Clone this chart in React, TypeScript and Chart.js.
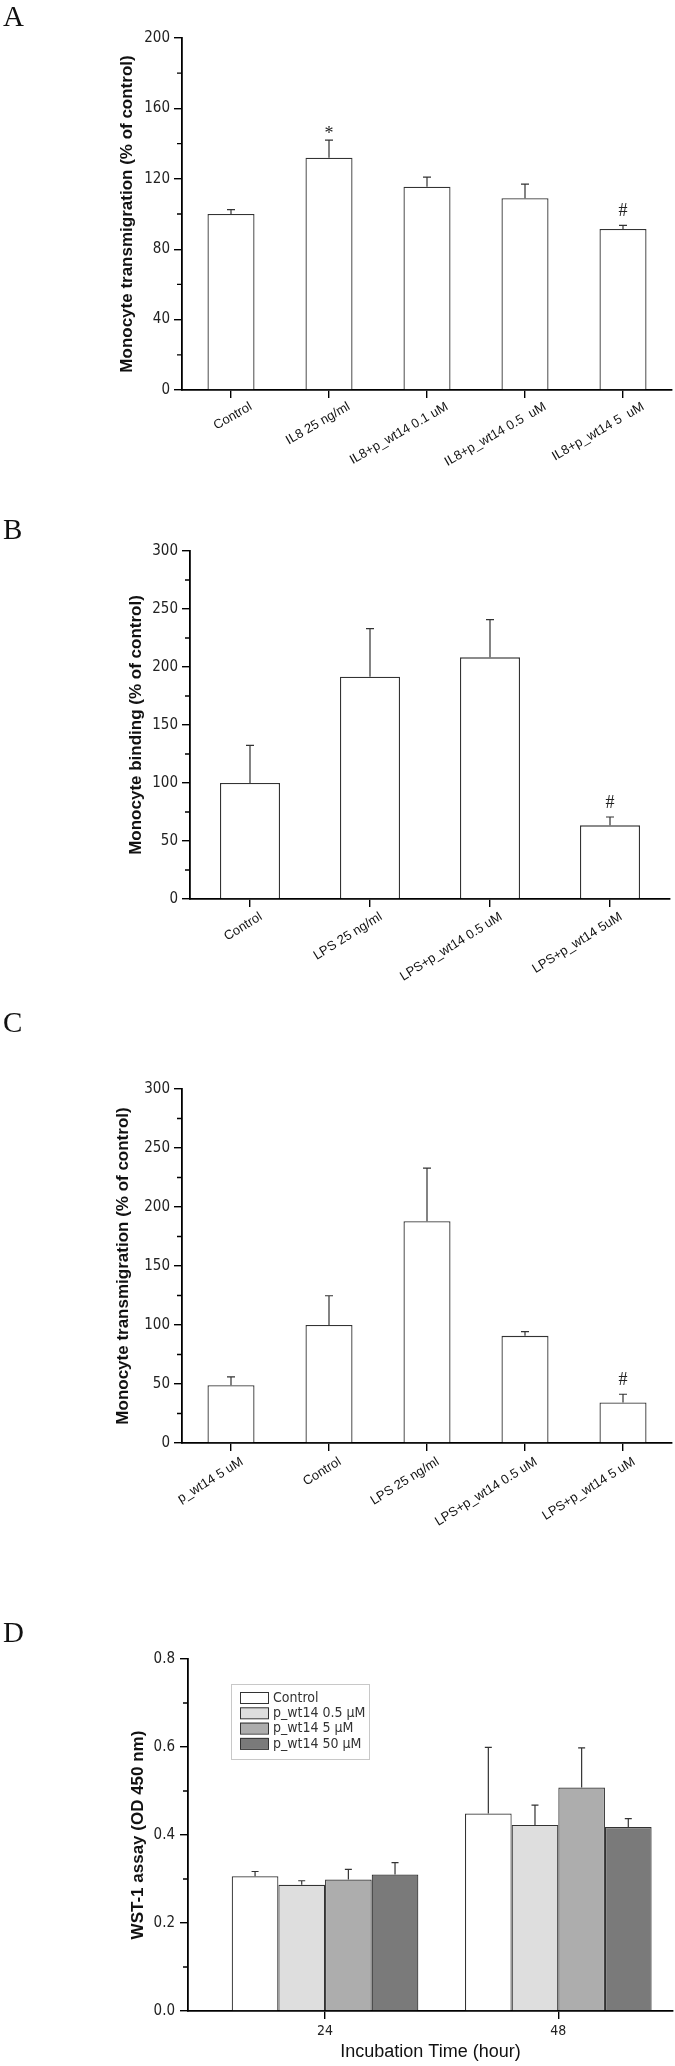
import React, { useEffect, useRef } from 'react';
import { Chart, registerables } from 'chart.js';

Chart.register(...registerables);

// ---------- Panel A ----------
const aCategories = ['Control', 'IL8 25 ng/ml', 'IL8+p_wt14 0.1 uM', 'IL8+p_wt14 0.5  uM', 'IL8+p_wt14 5  uM'];
const aValues = [100, 132, 115.5, 109, 91.5];
const aErrors = [2.5, 10, 5.5, 8, 2];
const aMarks = ['', '*', '', '', '#'];
const aTickValues = [0, 40, 80, 120, 160, 200];
const aTitle = 'Monocyte transmigration (% of control)';

// ---------- Panel B ----------
const bCategories = ['Control', 'LPS 25 ng/ml', 'LPS+p_wt14 0.5 uM', 'LPS+p_wt14 5uM'];
const bValues = [100, 191.7, 208.3, 63.5];
const bErrors = [32.5, 41.3, 32.5, 7.2];
const bMarks = ['', '', '', '#'];
const bTickValues = [0, 50, 100, 150, 200, 250, 300];
const bTitle = 'Monocyte binding (% of control)';

// ---------- Panel C ----------
const cCategories = ['p_wt14 5 uM', 'Control', 'LPS 25 ng/ml', 'LPS+p_wt14 0.5 uM', 'LPS+p_wt14 5 uM'];
const cValues = [49, 100, 188, 90.8, 34.3];
const cErrors = [7, 24.8, 45, 3.6, 7];
const cMarks = ['', '', '', '', '#'];
const cTickValues = [0, 50, 100, 150, 200, 250, 300];
const cTitle = 'Monocyte transmigration (% of control)';

// ---------- Panel D ----------
const dTimes = [24, 48];
const dTimeTicks = [24, 48];
const dXRange = [9.9, 59.8];
const dSeriesNames = ['Control', 'p_wt14 0.5 \u03bcM', 'p_wt14 5 \u03bcM', 'p_wt14 50 \u03bcM'];
const dControl = [0.306, 0.449];
const dControlErr = [0.011, 0.15];
const dLow = [0.287, 0.423];
const dLowErr = [0.009, 0.045];
const dMid = [0.299, 0.508];
const dMidErr = [0.023, 0.09];
const dHigh = [0.31, 0.418];
const dHighErr = [0.027, 0.019];
const dTickValues = [0, 0.2, 0.4, 0.6, 0.8];
const dYTitle = 'WST-1 assay (OD 450 nm)';
const dXTitle = 'Incubation Time (hour)';

// ---------- styles ----------
const W = 675;
const SANS = "'Liberation Sans', Arial, sans-serif";
const NARROW = "'Liberation Sans Narrow', 'Arial Narrow', 'DejaVu Sans Condensed', 'Liberation Sans', sans-serif";
const SERIF = "'Liberation Serif', 'Times New Roman', serif";
const EDGE = '#333333';

const annotatePlugin = {
  id: 'annotate',
  afterDatasetsDraw(chart: any, _args: any, opts: any) {
    const { ctx, chartArea } = chart;
    const y = chart.scales.y;
    ctx.save();
    // error bars + significance marks
    chart.data.datasets.forEach((ds: any, di: number) => {
      const meta = chart.getDatasetMeta(di);
      meta.data.forEach((bar: any, i: number) => {
        const raw = ds.data[i];
        const val = typeof raw === 'object' ? raw.y : raw;
        const yBar = y.getPixelForValue(val);
        const yTop = y.getPixelForValue(val + ds.errors[i]);
        ctx.strokeStyle = EDGE;
        ctx.lineWidth = 1.2;
        ctx.beginPath();
        ctx.moveTo(bar.x, yBar);
        ctx.lineTo(bar.x, yTop);
        ctx.moveTo(bar.x - opts.cap, yTop);
        ctx.lineTo(bar.x + opts.cap, yTop);
        ctx.stroke();
        const mark = ds.marks ? ds.marks[i] : '';
        if (mark) {
          ctx.fillStyle = '#222';
          ctx.font = `18px ${SERIF}`;
          ctx.textAlign = 'center';
          ctx.textBaseline = 'middle';
          ctx.fillText(mark, bar.x, yTop - (mark === '*' ? 6 : 14));
        }
      });
    });
    // minor ticks on y axis
    const t = y.ticks;
    ctx.strokeStyle = '#000';
    ctx.lineWidth = 1.3;
    ctx.beginPath();
    for (let i = 0; i < t.length - 1; i++) {
      const py = y.getPixelForValue((t[i].value + t[i + 1].value) / 2);
      ctx.moveTo(chartArea.left - 5, py);
      ctx.lineTo(chartArea.left, py);
    }
    ctx.stroke();
    // legend (panel D)
    if (opts.legend) {
      const lx = chartArea.left + opts.legend.dx;
      const ly = chartArea.top + opts.legend.dy;
      ctx.strokeStyle = '#c8c8c8';
      ctx.lineWidth = 1;
      ctx.strokeRect(lx + 0.5, ly + 0.5, opts.legend.w, opts.legend.h);
      chart.data.datasets.forEach((ds: any, i: number) => {
        const ry = ly + 8 + i * 15.3;
        ctx.fillStyle = ds.backgroundColor;
        ctx.fillRect(lx + 9, ry, 28, 11);
        ctx.strokeStyle = EDGE;
        ctx.lineWidth = 1;
        ctx.strokeRect(lx + 9.5, ry + 0.5, 28, 11);
        ctx.fillStyle = '#333';
        ctx.font = `14px ${NARROW}`;
        ctx.textAlign = 'left';
        ctx.textBaseline = 'middle';
        ctx.fillText(ds.label, lx + 42, ry + 6);
      });
    }
    ctx.restore();
  },
};

function axisCommon() {
  return {
    grid: { display: true, drawOnChartArea: false, offset: false, drawTicks: true, tickLength: 8, tickColor: '#000', lineWidth: 1.4 },
    border: { display: true, color: '#000', width: 1.8 },
  };
}

interface BarSpec {
  categories: string[];
  values: number[];
  errors: number[];
  marks: string[];
  tickValues: number[];
  title: string;
  height: number;
  chartTop: number;
  left: number;
  right: number;
  xAxisH: number;
  barFrac: number;
  rot: number;
  labelOffset: number;
  labelPad: number;
  titlePad: number;
}

function barConfig(p: BarSpec): any {
  return {
    type: 'bar',
    data: {
      labels: p.categories,
      datasets: [
        {
          data: p.values,
          errors: p.errors,
          marks: p.marks,
          backgroundColor: '#ffffff',
          borderColor: EDGE,
          borderWidth: 1.3,
          barPercentage: 1,
          categoryPercentage: p.barFrac,
        },
      ],
    },
    options: {
      responsive: false,
      animation: false,
      devicePixelRatio: 1,
      layout: { padding: { left: 0, top: p.chartTop, right: W - p.right, bottom: 0 } },
      plugins: {
        legend: { display: false },
        tooltip: { enabled: false },
        annotate: { cap: 4 },
      },
      scales: {
        x: {
          type: 'category',
          offset: true,
          ...axisCommon(),
          ticks: {
            autoSkip: false,
            minRotation: p.rot,
            maxRotation: p.rot,
            labelOffset: p.labelOffset,
            padding: p.labelPad,
            color: '#111',
            font: { family: SANS, size: 13 },
          },
          afterFit: (s: any) => {
            s.height = p.xAxisH;
          },
        },
        y: {
          min: p.tickValues[0],
          max: p.tickValues[p.tickValues.length - 1],
          ...axisCommon(),
          afterBuildTicks: (s: any) => {
            s.ticks = p.tickValues.map((v) => ({ value: v }));
          },
          ticks: { padding: 4, color: '#222', font: { family: NARROW, size: 15 } },
          title: {
            display: true,
            text: p.title,
            color: '#111',
            font: { family: SANS, size: 17, weight: 'bold' },
            padding: { top: p.titlePad, bottom: 0 },
          },
          afterFit: (s: any) => {
            s.width = p.left;
          },
        },
      },
    },
    plugins: [annotatePlugin],
  };
}

function dConfig(): any {
  const series = [
    { vals: dControl, errs: dControlErr, color: '#ffffff' },
    { vals: dLow, errs: dLowErr, color: '#dedede' },
    { vals: dMid, errs: dMidErr, color: '#adadad' },
    { vals: dHigh, errs: dHighErr, color: '#7a7a7a' },
  ];
  return {
    type: 'bar',
    data: {
      datasets: series.map((s, i) => ({
        label: dSeriesNames[i],
        data: dTimes.map((t, j) => ({ x: t, y: s.vals[j] })),
        errors: s.errs,
        backgroundColor: s.color,
        borderColor: EDGE,
        borderWidth: 1.2,
        barPercentage: 1,
        categoryPercentage: 0.8,
      })),
    },
    options: {
      responsive: false,
      animation: false,
      devicePixelRatio: 1,
      layout: { padding: { left: 0, top: 129, right: W - 673, bottom: 0 } },
      plugins: {
        legend: { display: false },
        tooltip: { enabled: false },
        annotate: { cap: 3.5, legend: { dx: 43, dy: 25, w: 138, h: 75 } },
      },
      scales: {
        x: {
          type: 'linear',
          min: dXRange[0],
          max: dXRange[1],
          offset: false,
          ...axisCommon(),
          afterBuildTicks: (s: any) => {
            s.ticks = dTimeTicks.map((v) => ({ value: v }));
          },
          ticks: {
            maxRotation: 0,
            minRotation: 0,
            padding: 4,
            color: '#222',
            font: { family: NARROW, size: 14 },
            callback: (v: any) => String(v),
          },
          title: {
            display: true,
            text: dXTitle,
            color: '#111',
            font: { family: SANS, size: 18 },
            padding: { top: 0, bottom: 3 },
          },
          afterFit: (s: any) => {
            s.height = 55;
          },
        },
        y: {
          min: 0,
          max: 0.8,
          ...axisCommon(),
          afterBuildTicks: (s: any) => {
            s.ticks = dTickValues.map((v) => ({ value: v }));
          },
          ticks: {
            padding: 5,
            color: '#222',
            font: { family: NARROW, size: 15 },
            callback: (v: any) => Number(v).toFixed(1),
          },
          title: {
            display: true,
            text: dYTitle,
            color: '#111',
            font: { family: SANS, size: 17, weight: 'bold' },
            padding: { top: 128, bottom: 0 },
          },
          afterFit: (s: any) => {
            s.width = 188;
          },
        },
      },
    },
    plugins: [annotatePlugin],
  };
}

function ChartCanvas({ top, height, build }: { top: number; height: number; build: () => any }) {
  const ref = useRef<HTMLCanvasElement | null>(null);
  useEffect(() => {
    const chart = new Chart(ref.current as HTMLCanvasElement, build());
    return () => chart.destroy();
  }, []);
  return (
    <canvas
      ref={ref}
      width={W}
      height={height}
      style={{ position: 'absolute', left: 0, top, width: W, height }}
    />
  );
}

function Letter({ text, top }: { text: string; top: number }) {
  return (
    <div
      style={{
        position: 'absolute',
        left: 3,
        top,
        fontFamily: SERIF,
        fontSize: 29,
        lineHeight: '29px',
        color: '#111',
      }}
    >
      {text}
    </div>
  );
}

export default function App() {
  const specA: BarSpec = {
    categories: aCategories, values: aValues, errors: aErrors, marks: aMarks, tickValues: aTickValues, title: aTitle,
    height: 470, chartTop: 38, left: 182, right: 672, xAxisH: 80, barFrac: 0.48, rot: 30, labelOffset: 20, labelPad: 1, titlePad: 117,
  };
  const specB: BarSpec = {
    categories: bCategories, values: bValues, errors: bErrors, marks: bMarks, tickValues: bTickValues, title: bTitle,
    height: 530, chartTop: 81, left: 190, right: 670, xAxisH: 101, barFrac: 0.5, rot: 32, labelOffset: 11, labelPad: 2, titlePad: 126,
  };
  const specC: BarSpec = {
    categories: cCategories, values: cValues, errors: cErrors, marks: cMarks, tickValues: cTickValues, title: cTitle,
    height: 530, chartTop: 89, left: 182, right: 672, xAxisH: 87, barFrac: 0.48, rot: 32, labelOffset: 11, labelPad: 3, titlePad: 113,
  };
  return (
    <div style={{ position: 'absolute', left: 0, top: 0, width: W, height: 2066, background: '#fff', overflow: 'hidden' }}>
      <ChartCanvas top={0} height={470} build={() => barConfig(specA)} />
      <ChartCanvas top={470} height={530} build={() => barConfig(specB)} />
      <ChartCanvas top={1000} height={530} build={() => barConfig(specC)} />
      <ChartCanvas top={1530} height={536} build={() => dConfig()} />
      <Letter text="A" top={2} />
      <Letter text="B" top={515} />
      <Letter text="C" top={1008} />
      <Letter text="D" top={1618} />
    </div>
  );
}
